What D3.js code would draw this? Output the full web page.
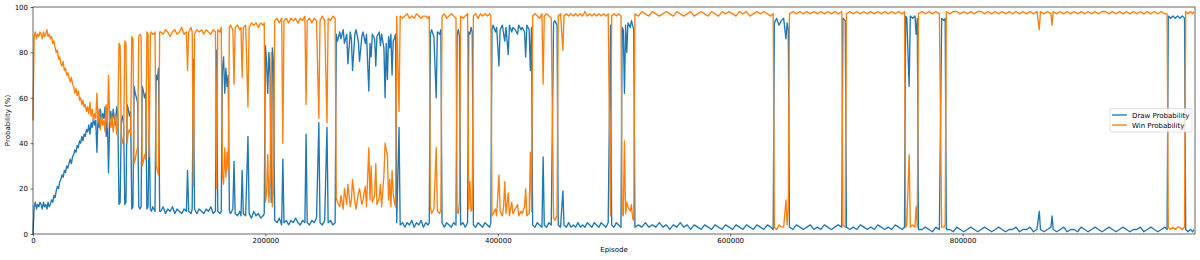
<!DOCTYPE html>
<html>
<head>
<meta charset="utf-8">
<script src="https://cdn.jsdelivr.net/npm/d3@7"></script>
<style>
  body { margin: 0; background: #fff; }
  svg text { font-family: "DejaVu Sans", sans-serif; fill: #000; }
</style>
</head>
<body>
<div id="content"></div>
<script>
// episodes in thousands
var episodesK = [
  0,1,2,3,4,5,6,7,8,9,10,11,12,13,14,15,16,17,18,19,20,21,22,23,24,25,26,27,28,29,30,31,32,33,34,35,36,37,
  38,39,40,41,42,43,44,45,46,47,48,49,50,51,52,53,54,55,56,57,58,59,60,61,62,63,64,65,66,67,68,69,70,71,72,73,
  74,75,76,77,78,79,80,81,82,83,84,85,86,87,88,89,90,91,92,93,94,95,96,97,98,99,100,101,102,103,104,105,106,107,108,109,
  110,112,114,116,118,120,122,124,126,128,130,132,133,134,136,137,138,139,141,143,145,147,149,151,153,155,157,158,159,161,
  162,163,164,165,166,167,168,169,170,172,173,174,176,178,179,180,181,183,185,186,188,190,192,194,196,198,199,
  200,201,202,203,204,205,206,207,
  208,210,212,214,215,216,218,220,222,224,226,228,230,232,234,235,236,238,240,242,244,246,247,249,251,253,254,256,258,260,
  261,262,264,265,267,268,270,271,273,274,275,277,278,280,281,283,284,286,287,289,290,291,292,294,295,296,298,299,300,302,
  303,304,305,306,307,308,309,310,311,312,
  313,315,316,318,320,322,324,326,328,330,332,334,336,338,340,341,
  342,343,345,347,348,350,351,352,354,356,358,360,362,364,365,366,367,368,370,372,374,375,376,377,378,379,381,383,385,387,
  389,391,393,394,
  395,396,398,399,401,402,404,405,406,407,409,410,412,413,415,417,418,420,421,423,424,425,427,428,429,
  430,432,434,436,438,439,440,442,444,446,448,449,451,452,454,456,457,459,461,463,465,467,469,471,473,475,477,479,481,483,
  485,487,489,491,493,495,497,498,500,502,504,506,507,508,509,510,511,512,514,515,516,517,
  518,521,524,527,530,533,536,539,542,545,548,551,554,557,560,563,566,569,572,575,578,581,584,587,590,593,596,599,602,605,
  608,611,614,617,620,623,626,629,632,635,637,638,640,642,644,646,648,649,650,
  651,654,657,660,663,666,669,672,675,678,681,684,687,690,693,696,697,699,
  700,703,706,709,712,715,718,721,724,727,730,733,736,739,742,745,748,750,751,752,754,755,757,759,760,761,
  762,765,768,771,774,777,780,782,784,785,
  786,789,792,795,798,801,804,807,810,813,816,819,822,825,828,831,834,837,840,843,846,849,852,855,858,861,864,866,867,870,
  873,876,877,878,881,884,887,890,893,896,899,902,905,908,911,914,917,920,923,926,929,932,935,938,941,944,947,950,953,956,
  959,962,965,968,971,974,976,
  977,979,981,983,985,987,989,991,992,994,996,998,999
];

var drawProb = [
  0,12,14,11,13,12,14,13,11,14,12,13,11,14,12,13,15,14,17,16,19,21,20,23,24,26,25,28,27,30,29,31,33,31,34,35,37,36,
  39,38,41,40,43,41,44,43,46,45,48,44,49,47,51,48,50,36,52,47,55,50,53,51,56,43,52,27,50,54,48,55,51,48,56,52,
  13,14,50,52,48,13,14,57,55,52,54,11,12,65,62,60,58,12,11,12,65,63,60,62,11,12,47,11,10,12,11,10,70,68,73,10,
  10,12,9,11,10,12,9,11,10,9,11,10,28,10,9,11,77,11,9,11,10,9,11,10,12,9,10,81,10,9,
  10,72,78,62,73,65,70,10,9,11,32,9,8,10,8,28,9,8,43,9,7,10,8,9,7,8,9,
  83,76,62,80,70,14,82,75,
  6,5,7,4,33,5,6,4,6,5,7,5,4,6,5,44,5,4,6,5,7,49,5,4,6,47,5,6,4,5,
  88,85,89,86,90,84,88,75,89,86,72,88,90,85,76,87,89,84,88,63,84,78,88,86,74,87,89,83,88,82,
  60,84,68,87,82,88,70,85,86,88,
  5,47,4,5,3,5,4,6,3,5,4,6,3,5,4,5,
  88,90,87,60,89,88,90,5,3,5,4,3,5,4,88,90,87,4,5,3,5,89,88,91,89,4,3,5,4,3,
  5,4,3,5,
  90,92,89,91,74,90,92,88,85,91,79,92,89,91,90,88,92,90,91,89,78,92,90,72,91,
  4,3,5,4,3,34,4,3,5,4,93,94,92,4,3,19,4,3,5,3,4,3,5,3,4,3,5,4,3,5,
  4,3,5,4,3,5,92,4,3,5,4,3,91,90,62,92,80,93,91,94,92,90,
  3,4,3,5,3,4,3,5,3,4,2,4,3,5,3,4,2,4,3,2,4,3,2,4,3,2,4,3,2,4,
  3,2,4,3,2,4,3,2,4,3,2,93,95,92,94,95,86,93,90,
  3,2,4,3,2,3,4,2,3,2,4,3,2,3,4,3,95,94,
  3,2,3,2,4,3,2,3,2,4,3,2,3,2,4,3,2,3,96,95,65,96,95,96,88,95,
  2,2,3,2,1,3,2,95,94,95,
  2,2,1,3,2,1,2,3,2,1,2,3,2,1,2,3,2,1,2,2,3,1,2,2,3,1,2,10,2,1,
  2,3,8,2,1,2,3,1,2,2,1,3,2,1,2,3,2,1,2,3,2,1,2,3,2,1,2,2,3,1,
  2,3,2,1,2,3,2,
  96,95,96,95,96,95,96,95,2,1,2,1,2
];

var winProb = [
  50,87,89,86,88,87,89,88,86,89,87,88,90,87,88,86,87,84,85,82,80,81,77,78,75,74,76,72,73,70,71,69,67,69,66,65,62,64,
  61,63,59,60,57,59,56,57,54,56,53,58,52,55,50,53,51,62,49,55,46,52,48,50,45,57,47,70,50,47,52,45,49,53,44,48,
  84,83,42,40,44,85,84,40,45,46,44,87,86,31,33,36,38,87,88,87,30,32,35,33,89,88,34,88,89,88,88,89,30,28,26,89,
  89,88,90,89,87,89,90,88,89,91,88,89,72,89,91,89,21,88,90,89,90,88,90,89,88,90,89,20,90,89,
  91,26,22,38,25,36,28,91,92,90,66,91,92,90,91,69,91,92,56,91,93,92,93,91,93,92,93,
  14,18,35,14,25,80,12,20,
  94,95,93,95,40,94,95,93,95,94,95,93,95,94,96,57,94,95,93,95,94,51,94,96,94,49,95,94,96,95,
  16,14,12,17,11,20,13,22,12,15,24,14,11,18,20,13,15,21,12,38,15,30,14,17,31,13,16,22,12,26,
  40,37,35,15,24,12,28,18,14,12,
  96,54,96,95,96,97,95,96,95,97,96,95,96,96,95,96,
  12,9,11,38,10,9,11,96,97,95,96,97,96,95,10,9,14,96,95,96,97,11,23,10,11,96,97,95,97,96,
  97,96,97,96,
  8,9,11,8,26,10,8,12,23,9,18,8,14,9,11,13,8,10,9,12,20,8,9,36,10,
  96,97,96,95,97,66,96,97,96,95,7,6,8,96,97,81,96,97,96,97,96,97,96,97,96,98,96,97,96,97,
  96,97,96,97,96,97,8,96,97,96,97,96,9,8,41,9,14,12,10,13,7,6,
  97,96,98,97,96,98,97,96,97,98,97,96,98,97,96,97,98,96,97,98,97,96,98,97,96,98,97,98,97,96,
  98,97,98,96,97,98,97,98,97,96,97,3,2,4,3,3,15,4,12,
  97,98,97,98,97,98,97,98,97,98,97,98,97,98,97,98,4,3,
  97,98,97,98,97,98,97,98,97,98,97,98,97,98,97,98,97,98,3,4,35,3,4,3,12,3,
  97,98,97,98,97,98,97,3,3,4,
  98,97,98,98,97,98,97,98,97,98,98,97,98,97,98,97,98,97,98,97,98,97,98,97,98,97,98,90,98,97,
  98,97,92,98,97,98,97,98,97,98,97,98,97,98,97,98,97,98,98,97,98,97,98,97,98,97,98,97,98,97,
  98,97,98,97,98,97,97,
  3,2,3,2,3,3,2,3,98,97,98,97,98
];

var seriesNames = ["Draw Probability", "Win Probability"];
var seriesColors = ["#1f77b4", "#ff7f0e"];
var xTicks = [0, 200000, 400000, 600000, 800000];
var yTicks = [0, 20, 40, 60, 80, 100];

var W = 1200, H = 260;
var margin = {t: 7, r: 5, b: 26, l: 33};
var plot = {x0: margin.l, x1: W - margin.r, y0: margin.t, y1: H - margin.b};

var svg = d3.select("#content")
            .append("svg")
            .attr("width", W)
            .attr("height", H);

var scaleX = d3.scaleLinear().domain([0, 1000000]).range([plot.x0, plot.x1]);
var scaleY = d3.scaleLinear().domain([0, 100]).range([plot.y1, plot.y0]);

var series = [drawProb, winProb].map(function(vals, i) {
  return {
    name: seriesNames[i],
    color: seriesColors[i],
    points: vals.map(function(v, j) { return {ep: episodesK[j] * 1000, p: v}; })
  };
});

var line = d3.line()
             .x(function(d) { return scaleX(d.ep); })
             .y(function(d) { return scaleY(d.p); });

svg.append("g")
   .selectAll("path")
   .data(series)
   .enter()
   .append("path")
   .attr("d", function(d) { return line(d.points); })
   .attr("fill", "none")
   .attr("stroke", function(d) { return d.color; })
   .attr("stroke-width", 1.35)
   .attr("stroke-linejoin", "round");

// axes
var axisX = d3.axisBottom(scaleX).tickValues(xTicks).tickFormat(d3.format("d"))
              .tickSize(2.5).tickPadding(1.5);
var axisY = d3.axisLeft(scaleY).tickValues(yTicks).tickFormat(d3.format("d"))
              .tickSize(2.5).tickPadding(2.5);

var axisXG = svg.append("g")
                .attr("transform", "translate(0," + plot.y1 + ")")
                .call(axisX);
var axisYG = svg.append("g")
                .attr("transform", "translate(" + plot.x0 + ",0)")
                .call(axisY);

[axisXG, axisYG].forEach(function(g) {
  g.select(".domain").remove();
  g.selectAll(".tick line").attr("stroke", "#000").attr("stroke-width", 0.6);
  g.selectAll(".tick text").attr("font-size", 7).attr("font-family", "DejaVu Sans");
});

// frame
svg.append("rect")
   .attr("x", plot.x0).attr("y", plot.y0)
   .attr("width", plot.x1 - plot.x0).attr("height", plot.y1 - plot.y0)
   .attr("fill", "none").attr("stroke", "#000").attr("stroke-width", 0.6);

svg.append("text")
   .attr("x", (plot.x0 + plot.x1) / 2)
   .attr("y", 252)
   .attr("text-anchor", "middle")
   .attr("font-size", 7)
   .text("Episode");

svg.append("text")
   .attr("transform", "translate(10," + ((plot.y0 + plot.y1) / 2) + ") rotate(-90)")
   .attr("text-anchor", "middle")
   .attr("font-size", 7)
   .text("Probability (%)");

// legend
var legend = svg.append("g").attr("transform", "translate(1110,108.5)");
legend.append("rect")
      .attr("width", 82).attr("height", 23.5).attr("rx", 1.5)
      .attr("fill", "#fff").attr("fill-opacity", 0.8)
      .attr("stroke", "#ccc").attr("stroke-width", 0.6);
var items = legend.selectAll("g.item")
                  .data(series)
                  .enter()
                  .append("g")
                  .attr("class", "item")
                  .attr("transform", function(d, i) { return "translate(0," + (6.5 + i * 10) + ")"; });
items.append("line")
     .attr("x1", 2).attr("x2", 17)
     .attr("stroke", function(d) { return d.color; })
     .attr("stroke-width", 1.35);
items.append("text")
     .attr("x", 22).attr("y", 2.5)
     .attr("font-size", 7)
     .text(function(d) { return d.name; });
</script>
</body>
</html>
